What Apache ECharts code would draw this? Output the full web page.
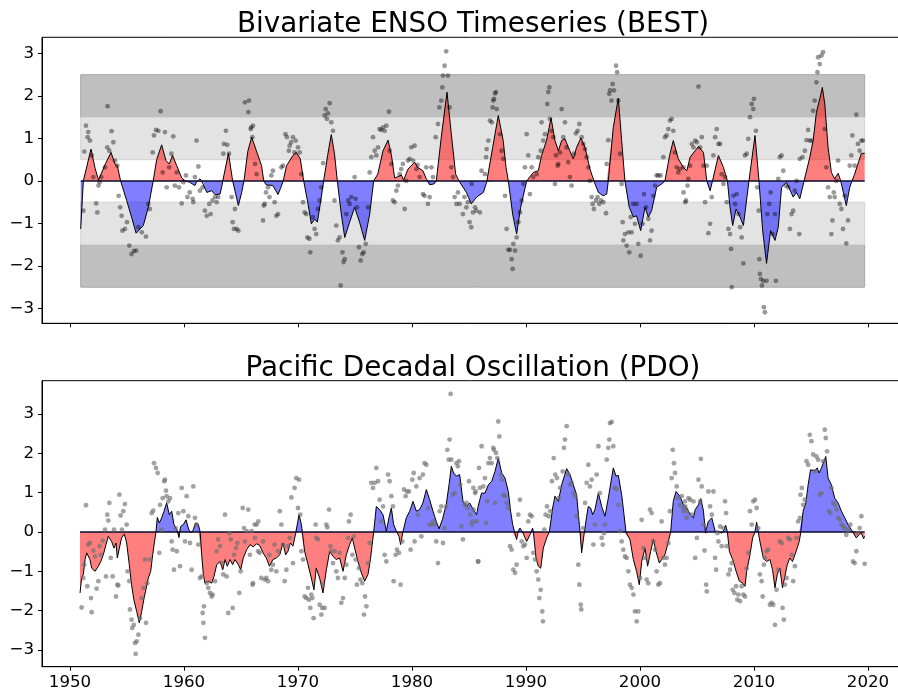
<!DOCTYPE html>
<html><head><meta charset="utf-8">
<script src="https://cdn.jsdelivr.net/npm/echarts@6/dist/echarts.min.js"></script>
<style>html,body{margin:0;padding:0;background:#fff}#c{width:898px;height:691px}</style>
</head><body><div id="c"></div>
<script>
const xTicks = [1950, 1960, 1970, 1980, 1990, 2000, 2010, 2020];
const yTicks = [-3, -2, -1, 0, 1, 2, 3];
const titles = ['Bivariate ENSO Timeseries (BEST)', 'Pacific Decadal Oscillation (PDO)'];
const bandsDark = [[1.5, 2.5], [-2.5, -1.5]];
const bandsLight = [[0.5, 1.5], [-1.5, -0.5]];

const bestYears = [1950.94,1951.17,1951.84,1952.2,1952.5,1953.1,1953.6,1953.95,1954.15,1954.44,1954.97,1955.4,1955.8,1956.43,1956.87,1957.3,1957.6,1958.04,1958.42,1958.7,1959.0,1959.36,1959.8,1960.1,1960.5,1960.96,1961.1,1961.25,1961.4,1961.55,1961.7,1962.0,1962.43,1962.72,1963.16,1963.3,1963.4,1963.9,1964.27,1964.77,1965.06,1965.26,1965.6,1965.94,1966.35,1966.8,1967.0,1967.2,1967.8,1968.25,1968.5,1968.7,1969.0,1969.56,1969.85,1970.2,1970.5,1970.88,1971.17,1971.46,1971.7,1972.0,1972.25,1972.6,1972.92,1973.2,1973.45,1973.8,1974.1,1974.53,1974.97,1975.4,1975.85,1976.29,1976.64,1977.0,1977.46,1977.9,1978.2,1978.48,1978.77,1979.06,1979.27,1979.65,1980.23,1980.5,1980.96,1981.25,1981.4,1981.55,1981.93,1982.13,1982.57,1983.07,1983.45,1983.83,1984.12,1984.77,1985.2,1985.67,1986.26,1986.55,1986.6,1987.08,1987.57,1988.0,1988.25,1988.45,1988.83,1989.18,1989.53,1990.06,1990.64,1991.08,1991.37,1991.8,1992.2,1992.54,1992.84,1993.13,1993.42,1993.71,1994.15,1994.44,1994.82,1995.18,1995.61,1995.96,1996.35,1996.78,1997.08,1997.22,1997.66,1998.1,1998.39,1998.68,1999.06,1999.42,1999.7,2000.06,2000.44,2000.73,2001.02,2001.46,2001.9,2002.19,2002.6,2002.92,2003.36,2003.8,2004.11,2004.4,2004.84,2005.13,2005.57,2005.86,2006.15,2006.36,2006.88,2007.32,2007.67,2007.9,2008.13,2008.43,2008.78,2009.07,2009.56,2010.09,2010.44,2010.76,2011.1,2011.46,2011.84,2012.13,2012.42,2012.86,2013.44,2013.73,2014.02,2014.37,2014.46,2014.9,2015.19,2015.48,2015.77,2016.0,2016.21,2016.5,2016.79,2017.08,2017.38,2017.61,2018.1,2018.4,2018.6,2018.83,2019.42,2019.71];
const bestValues = [-1.13,0,0.75,0.3,0.02,0.4,0.67,0.40,0.36,0,-0.46,-0.85,-1.23,-1.05,-0.62,0,0.5,0.85,0.48,0.40,0.60,0.36,0.07,0,-0.03,-0.11,-0.03,0,0.05,0,-0.03,-0.27,-0.23,-0.32,-0.31,-0.15,0,0.65,0,-0.58,-0.27,0,0.7,1.03,0.71,0.36,0,-0.09,-0.11,-0.32,-0.15,0,0.36,0.60,0.67,0.52,0,-0.54,-1.01,-0.90,-0.97,-0.46,0,0.6,1.09,0.64,0,-0.78,-1.33,-0.97,-0.62,-0.97,-1.40,-0.78,0,0.16,0.71,0.96,0.60,0.07,0.10,0.14,0.02,0.28,0.44,0.32,0.24,0.05,0,-0.09,-0.07,0,1.03,2.09,1.10,0.16,0,-0.27,-0.54,-0.38,-0.27,-0.03,0,0.79,1.54,0.95,0.32,0,-0.78,-1.25,-0.62,0,0.20,0.24,0.60,0.95,1.48,0.95,0.71,0.95,0.99,0.79,0.52,0.79,1.01,0.79,0.28,0,-0.27,-0.35,-0.31,0,1.26,1.95,0.95,0,-0.62,-0.85,-0.82,-1.17,-0.62,-0.85,-0.70,-0.15,-0.07,0,0.6,0.95,0.52,0.32,0.24,0.56,0.71,0.81,0.67,0,-0.23,0,0.60,0.32,0,-0.62,-1.05,-0.66,-0.85,-1.05,0,1.07,0,-1.17,-1.94,-1.17,-1.40,-1.09,-0.15,-0.03,-0.38,-0.27,-0.42,-0.03,0,0.56,0.95,1.62,1.93,2.20,1.81,0.79,0.20,0.05,0.18,0,-0.58,-0.15,0,0.16,0.65,0.65];

const bestObs = [[1951.17,-0.7],[1951.26,0.69],[1951.4,1.3],[1951.55,1.03],[1951.6,1.15],[1951.75,0.95],[1951.9,0.6],[1952.05,0.09],[1952.3,-0.53],[1952.4,-0.74],[1952.5,-0.11],[1952.6,-0.03],[1952.75,0.09],[1953.07,0.32],[1953.27,0.79],[1953.3,1.76],[1953.45,0.71],[1953.65,1.17],[1953.8,0.91],[1953.95,0.48],[1954.15,0.36],[1954.27,-0.35],[1954.4,-0.62],[1954.53,-0.82],[1954.6,-1.17],[1954.82,-1.13],[1955.0,-0.97],[1955.2,-1.52],[1955.4,-1.72],[1955.6,-1.65],[1955.8,-1.64],[1956.0,-1.09],[1956.3,-1.21],[1956.66,-1.31],[1956.87,-0.54],[1957.0,-0.66],[1957.25,0.67],[1957.37,1.07],[1957.54,1.2],[1957.75,1.18],[1957.95,1.64],[1958.13,0.2],[1958.33,1.15],[1958.48,-0.15],[1958.7,0.32],[1958.9,0.64],[1959.06,1.05],[1959.2,-0.11],[1959.36,0.2],[1959.56,-0.15],[1959.8,-0.53],[1959.94,-0.03],[1960.17,0.13],[1960.3,-0.38],[1960.5,-0.27],[1960.76,-0.42],[1960.82,-0.5],[1960.96,0.09],[1961.1,0.95],[1961.26,0.34],[1961.4,-0.23],[1961.64,-0.15],[1961.84,-0.7],[1962.0,-0.82],[1962.22,-0.54],[1962.34,-0.78],[1962.5,-0.46],[1962.72,-0.38],[1962.87,-0.5],[1963.0,-0.38],[1963.45,0.64],[1963.5,0.87],[1963.68,1.18],[1963.8,0.85],[1963.95,0.64],[1964.18,-0.38],[1964.27,-0.97],[1964.38,-1.13],[1964.47,-0.66],[1964.62,-1.13],[1964.77,-1.17],[1965.35,1.85],[1965.64,1.62],[1965.7,1.89],[1965.85,1.22],[1966.0,1.03],[1966.23,0.4],[1966.37,0.16],[1965.9,1.26],[1966.05,1.3],[1966.93,-0.93],[1967.0,-0.58],[1967.08,-0.54],[1967.2,-0.27],[1967.37,-0.15],[1967.5,-0.38],[1967.66,0.13],[1967.8,0.24],[1967.95,-0.5],[1968.1,-0.82],[1968.25,-0.78],[1968.54,0.32],[1968.68,0.36],[1968.9,1.1],[1969.03,1.03],[1969.2,0.71],[1969.27,0.83],[1969.4,0.91],[1969.56,1.03],[1969.7,0.67],[1969.8,0.95],[1970.0,0.79],[1970.15,0.67],[1970.3,0.16],[1970.44,-0.5],[1970.58,-0.74],[1970.73,-0.78],[1970.82,-1.33],[1971.0,-1.36],[1971.08,-1.68],[1971.3,-0.85],[1971.46,-1.13],[1971.6,-1.25],[1971.75,-0.66],[1971.9,-0.46],[1972.05,-0.15],[1972.2,0.42],[1972.34,1.54],[1972.43,1.69],[1972.54,1.46],[1972.63,1.59],[1972.78,1.83],[1972.92,1.38],[1973.07,1.18],[1973.2,-0.46],[1973.36,-1.05],[1973.5,-1.4],[1973.65,-1.33],[1973.74,-2.46],[1973.9,-1.68],[1974.0,-1.91],[1974.1,-1.84],[1974.24,-0.78],[1974.4,-0.46],[1974.53,-0.54],[1974.68,-0.38],[1974.97,0.09],[1975.06,-0.42],[1975.18,-0.62],[1975.35,-1.56],[1975.5,-1.87],[1975.64,-1.72],[1975.76,-1.68],[1975.94,-1.48],[1976.14,-0.62],[1976.29,0.2],[1976.43,0.56],[1976.58,1.03],[1976.73,0.71],[1976.87,0.6],[1977.02,0.79],[1977.16,1.22],[1977.3,1.2],[1977.46,1.26],[1977.6,1.18],[1977.75,1.3],[1977.98,1.63],[1978.04,0.71],[1978.2,0.4],[1978.33,-0.46],[1978.48,-0.5],[1978.63,-0.23],[1978.77,-0.11],[1978.92,0.16],[1979.06,0.28],[1979.2,0.4],[1979.36,-0.66],[1979.5,0],[1979.65,0.48],[1979.8,0.52],[1979.94,0.79],[1980.1,0.48],[1980.23,0.83],[1980.38,0.28],[1980.5,0.38],[1980.67,0.09],[1980.96,-0.31],[1981.1,-0.35],[1981.25,0.32],[1981.4,-0.54],[1981.55,-0.38],[1981.7,0.32],[1981.84,0.09],[1982.08,1.03],[1982.28,1.34],[1982.4,1.73],[1982.57,1.89],[1982.66,2.2],[1982.72,2.48],[1982.86,2.71],[1983.0,3.05],[1983.15,2.48],[1983.3,1.73],[1983.45,0.32],[1983.6,0.09],[1983.74,-0.38],[1983.9,-0.54],[1984.03,-0.27],[1984.18,-0.54],[1984.47,-0.78],[1984.6,-0.38],[1984.77,-0.62],[1984.9,-0.5],[1985.05,-0.97],[1985.2,-1.09],[1985.35,-0.74],[1985.64,-0.7],[1985.23,-0.07],[1985.53,-0.62],[1985.96,-0.74],[1986.1,0.24],[1986.4,0.16],[1986.5,0.56],[1986.55,0.75],[1986.7,0.95],[1986.84,1.42],[1987.0,1.38],[1987.08,1.73],[1987.13,1.89],[1987.2,1.93],[1987.28,2.06],[1987.37,2.09],[1987.43,1.69],[1987.72,1.1],[1987.87,0.71],[1988.0,0.52],[1988.16,-0.35],[1988.3,-1.13],[1988.45,-1.62],[1988.6,-1.62],[1988.74,-1.84],[1988.83,-2.07],[1988.89,-1.48],[1989.04,-1.64],[1989.18,-1.33],[1989.33,-0.97],[1989.47,-0.74],[1989.62,-0.46],[1989.77,-0.07],[1989.91,0.32],[1990.06,1.1],[1990.2,0.6],[1990.35,-0.31],[1990.5,0.32],[1990.64,0.09],[1990.94,0.16],[1991.08,0.56],[1991.29,0.71],[1991.37,1.38],[1991.52,0.95],[1991.67,1.1],[1991.87,1.81],[1991.96,2.09],[1992.05,2.2],[1992.1,1.46],[1992.25,1.18],[1992.4,1.03],[1992.54,-0.07],[1992.63,0.6],[1992.78,0.36],[1992.84,0.4],[1992.98,0.67],[1993.13,1.69],[1993.27,1.03],[1993.42,1.38],[1993.57,0.79],[1993.71,0.44],[1993.86,0.09],[1994.0,-0.11],[1994.2,0.64],[1994.38,1.12],[1994.53,1.18],[1994.68,1.34],[1994.88,1.03],[1995.03,0.87],[1995.18,0.75],[1995.32,0.56],[1995.47,0.32],[1995.61,0],[1995.76,-0.38],[1995.85,-0.54],[1995.96,-0.66],[1996.14,-0.46],[1996.28,-0.38],[1996.43,-0.54],[1996.58,-0.46],[1996.78,-0.5],[1997.02,-0.76],[1997.08,0.4],[1997.22,0.96],[1997.3,2.05],[1997.37,2.13],[1997.5,1.89],[1997.6,2.28],[1997.72,2.13],[1997.9,2.71],[1998.0,2.56],[1998.1,1.89],[1998.25,0.64],[1998.39,-0.07],[1998.48,-0.97],[1998.54,-1.4],[1998.68,-1.25],[1998.83,-1.52],[1998.98,-1.21],[1999.06,-1.68],[1999.18,-0.85],[1999.27,-1.21],[1999.42,-0.54],[1999.56,-1.01],[1999.7,-0.54],[1999.85,-1.48],[2000.06,-1.76],[2000.23,-1.01],[2000.35,-0.31],[2000.53,-0.62],[2000.73,-0.89],[2000.88,-1.4],[2001.02,-1.17],[2001.17,-0.35],[2001.32,-0.11],[2001.46,0.13],[2001.6,0.13],[2001.81,0.13],[2002.05,0.56],[2002.19,1.03],[2002.34,1.07],[2002.49,1.22],[2002.63,1.42],[2002.78,1.46],[2002.92,1.18],[2003.07,0.67],[2003.22,0.32],[2003.36,0.2],[2003.5,0.28],[2003.8,0.32],[2004.04,-0.46],[2004.24,0.05],[2003.82,-0.27],[2003.97,-0.5],[2004.17,-0.11],[2004.4,0.36],[2004.55,0.87],[2004.69,0.79],[2004.84,0.95],[2004.99,0.91],[2005.13,2.22],[2005.28,0.79],[2005.42,1.03],[2005.57,0.36],[2005.71,-0.5],[2005.86,0.36],[2006.0,-1.23],[2006.15,-1.01],[2006.3,-0.38],[2006.44,0.6],[2006.59,1.03],[2006.73,1.22],[2006.88,0.87],[2007.03,0.87],[2007.17,0.16],[2007.32,-0.07],[2007.46,0.09],[2007.61,-0.5],[2007.76,-1.13],[2007.9,-1.25],[2007.99,-1.6],[2008.05,-2.5],[2008.2,-0.35],[2008.34,-0.54],[2008.48,-0.31],[2008.63,-0.78],[2008.78,-1.09],[2008.92,-1.33],[2009.07,-1.94],[2009.21,0.6],[2009.36,0.64],[2009.5,0.99],[2009.65,1.5],[2009.8,1.81],[2009.94,1.69],[2010.0,1.93],[2010.17,1.18],[2010.29,-0.15],[2010.41,-0.7],[2010.47,-1.84],[2010.52,-2.19],[2010.61,-2.31],[2010.7,-2.46],[2010.82,-2.35],[2010.87,-2.97],[2010.96,-3.09],[2011.1,-2.35],[2011.17,-0.78],[2011.34,-0.54],[2011.46,-0.27],[2011.63,-1.25],[2011.84,-0.78],[2011.92,-2.35],[2012.13,0.05],[2012.27,0.56],[2012.42,0.6],[2012.57,0.24],[2012.8,-0.11],[2013.0,-0.15],[2013.15,-1.13],[2013.3,-0.78],[2013.44,-0.7],[2013.59,-0.23],[2013.73,0],[2013.97,-1.25],[2014.02,0.52],[2014.26,0.56],[2014.46,0.71],[2014.61,0.96],[2014.75,1.2],[2014.9,0.95],[2015.04,0.95],[2015.19,1.65],[2015.33,1.89],[2015.48,2.32],[2015.57,2.56],[2015.63,2.91],[2015.77,2.75],[2015.92,2.95],[2016.06,3.03],[2016.21,1.22],[2016.35,0.32],[2016.5,-0.15],[2016.65,-0.38],[2016.79,-1.25],[2016.88,-0.93],[2017.0,-0.27],[2017.08,-0.38],[2017.23,0],[2017.38,0.48],[2017.52,-0.54],[2017.67,-0.66],[2017.81,-1.13],[2017.96,-0.35],[2018.1,-1.47],[2018.25,-0.93],[2018.4,0.36],[2018.54,0.6],[2018.63,1.07],[2018.83,0.36],[2018.98,1.56],[2019.12,0.87],[2019.27,0.71],[2019.42,0.95],[2019.56,0.95]];

const pdoYears = [1950.88,1951.02,1951.17,1951.32,1951.46,1951.6,1951.75,1951.9,1952.05,1952.2,1952.34,1952.49,1952.7,1952.92,1953.16,1953.36,1953.5,1953.65,1953.86,1954.04,1954.15,1954.33,1954.53,1954.77,1954.97,1955.2,1955.4,1955.6,1955.85,1956.08,1956.29,1956.5,1956.67,1956.87,1957.08,1957.25,1957.54,1957.66,1957.84,1958.04,1958.25,1958.48,1958.71,1958.92,1959.12,1959.36,1959.45,1959.56,1959.63,1959.7,1959.94,1960.18,1960.38,1960.52,1960.58,1960.7,1960.82,1961.02,1961.26,1961.42,1961.55,1961.7,1961.84,1962.13,1962.43,1962.63,1962.87,1963.16,1963.4,1963.6,1963.8,1964.04,1964.27,1964.47,1964.77,1964.97,1965.2,1965.5,1965.79,1966.08,1966.35,1966.64,1966.93,1967.22,1967.5,1967.8,1968.1,1968.4,1968.68,1968.92,1969.12,1969.33,1969.56,1969.8,1969.85,1970.09,1970.3,1970.38,1970.58,1970.88,1971.17,1971.4,1971.6,1971.9,1972.19,1972.49,1972.78,1973.07,1973.36,1973.65,1973.95,1974.24,1974.53,1974.77,1974.97,1975.26,1975.56,1975.85,1976.14,1976.35,1976.64,1976.87,1977.16,1977.46,1977.75,1977.98,1978.19,1978.39,1978.63,1978.7,1978.86,1979.0,1979.2,1979.5,1979.8,1980.09,1980.38,1980.67,1980.96,1981.26,1981.55,1981.84,1982.13,1982.37,1982.66,1983.0,1983.25,1983.45,1983.65,1983.9,1984.18,1984.47,1984.77,1985.06,1985.38,1985.67,1985.8,1986.1,1986.4,1986.7,1986.99,1987.28,1987.57,1987.87,1988.16,1988.45,1988.65,1988.83,1989.0,1989.18,1989.3,1989.47,1989.7,1989.77,1990.06,1990.35,1990.47,1990.58,1990.65,1990.88,1991.08,1991.29,1991.52,1991.81,1992.05,1992.34,1992.54,1992.84,1993.13,1993.57,1993.86,1994.15,1994.44,1994.68,1994.75,1994.88,1995.09,1995.13,1995.32,1995.47,1995.67,1995.85,1996.05,1996.35,1996.64,1996.93,1997.22,1997.66,1997.9,1998.1,1998.39,1998.6,1998.77,1999.12,1999.42,1999.7,1999.94,2000.15,2000.44,2000.67,2000.94,2001.17,2001.4,2001.7,2001.9,2002.19,2002.49,2002.69,2002.92,2003.16,2003.5,2003.8,2004.11,2004.4,2004.69,2004.84,2005.13,2005.34,2005.57,2005.74,2005.77,2005.8,2006.0,2006.3,2006.44,2006.59,2006.88,2007.05,2007.17,2007.3,2007.38,2007.52,2007.67,2007.84,2008.13,2008.43,2008.72,2009.0,2009.21,2009.36,2009.65,2009.88,2010.09,2010.23,2010.38,2010.52,2010.82,2011.1,2011.4,2011.63,2011.84,2012.04,2012.27,2012.5,2012.71,2012.92,2013.15,2013.38,2013.59,2013.79,2013.97,2014.11,2014.31,2014.55,2014.75,2014.96,2015.13,2015.34,2015.54,2015.71,2015.92,2016.3,2016.5,2016.79,2017.08,2017.38,2017.67,2017.96,2018.25,2018.54,2018.69,2018.98,2019.21,2019.42,2019.62,2019.71];
const pdoValues = [-1.55,-1.17,-1.08,-0.70,-0.53,-0.49,-0.70,-0.92,-0.87,-1.00,-0.96,-0.87,-0.75,-0.58,-0.32,-0.11,-0.07,-0.24,-0.41,-0.28,-0.66,-0.41,-0.15,-0.05,-0.28,-0.83,-1.34,-1.72,-2.02,-2.31,-2.02,-1.68,-1.64,-1.17,-1.00,-0.58,0,0.37,0.23,0.36,0.53,0.74,0.44,0.53,0.19,0.06,0,-0.14,0,0.14,0.19,0.31,0.10,0,-0.03,0,0.06,0.23,0.19,0,-0.58,-1.08,-1.30,-1.25,-1.30,-1.13,-0.83,-0.75,-0.96,-0.70,-0.87,-0.70,-0.83,-0.70,-0.83,-0.96,-0.66,-0.45,-0.32,-0.38,-0.30,-0.34,-0.53,-0.66,-0.87,-0.70,-0.66,-0.58,-0.28,-0.58,-0.49,-0.28,-0.36,-0.03,0,0.44,0.19,0,-0.49,-0.83,-1.17,-1.47,-0.92,-1.17,-1.55,-0.96,-0.49,-0.62,-0.70,-0.66,-1.00,-0.58,-0.32,-0.15,-0.41,-0.75,-1.04,-1.25,-1.08,-0.70,0,0.65,0.57,0.44,0.02,0.36,0.61,0.19,0.02,0,-0.11,-0.32,0,0.36,0.53,0.78,0.53,0.57,0.74,1.08,0.82,0.53,0.27,0.08,0.31,0.69,1.20,1.67,1.50,1.42,1.46,0.78,0.65,0.74,0.57,0.44,0.65,0.99,0.99,1.20,1.29,1.54,1.88,1.50,1.37,1.03,0.53,0.19,0,-0.19,0,0.10,0,-0.03,-0.24,-0.07,0,0.10,0,-0.66,-0.87,-0.92,-0.41,-0.15,0,0.61,0.91,0.78,1.20,1.61,1.46,1.20,0.95,0.19,0,-0.53,-0.07,0,0.40,0.65,0.61,0.44,0.57,0.99,0.65,0.40,0.86,1.63,1.42,1.44,0.95,0.44,0,-0.19,-0.70,-1.00,-1.34,-0.75,-0.41,-0.87,-0.49,-0.19,-0.49,-0.79,-0.70,-0.58,-0.24,0,0.78,1.03,0.91,0.70,0.61,0.44,0.36,0.57,0.69,0.85,0.53,0,-0.05,0,0.27,0.36,0.31,0.02,0.02,0,-0.03,0,0.06,0.17,0,-0.49,-0.70,-1.00,-1.25,-1.30,-1.38,-1.00,-0.58,-0.15,0,0.25,0,-0.24,-0.66,-0.75,-0.70,-0.96,-1.42,-1.08,-0.92,-1.42,-1.13,-0.83,-0.66,-0.75,-0.58,-0.41,-0.24,0,0.53,0.74,1.20,1.58,1.63,1.56,1.63,1.50,1.63,1.92,1.37,1.20,0.86,0.74,0.53,0.36,0.19,0.06,0,-0.15,-0.07,-0.03,-0.17,-0.11];

const pdoObs = [[1951.02,-1.92],[1951.17,-1.17],[1951.26,-0.83],[1951.4,0.68],[1951.52,-1.38],[1951.6,-0.32],[1951.75,-0.28],[1951.84,-1.68],[1951.9,-2.04],[1952.05,-0.47],[1952.2,-0.62],[1952.34,-1.44],[1952.49,-1.25],[1952.6,-0.36],[1952.7,-0.58],[1952.87,-0.22],[1953.07,0.06],[1953.16,-1.13],[1953.27,0.44],[1953.36,0.29],[1953.45,0.74],[1953.57,-0.66],[1953.74,-1.13],[1953.86,0.06],[1954.04,-1.64],[1954.15,-1.34],[1954.24,-1.36],[1954.33,0.95],[1954.44,0.42],[1954.56,0.06],[1954.68,0.53],[1954.82,0.71],[1954.97,0.19],[1955.06,-1.0],[1955.2,-1.25],[1955.26,-1.97],[1955.4,-2.23],[1955.46,-2.44],[1955.6,-2.36],[1955.7,-2.82],[1955.85,-2.78],[1956.0,-2.61],[1955.76,-3.1],[1956.14,-2.19],[1956.29,-1.68],[1956.43,-1.42],[1956.58,-0.7],[1956.67,-2.31],[1956.78,-1.3],[1957.0,-0.7],[1957.16,0.48],[1957.3,0.54],[1957.37,1.75],[1957.54,1.63],[1957.69,1.5],[1957.84,-0.53],[1957.9,0.69],[1958.04,0.06],[1958.13,0.86],[1958.27,1.29],[1958.33,1.33],[1958.42,1.05],[1958.48,0.91],[1958.63,0.78],[1958.77,0.86],[1958.92,-0.24],[1959.0,-0.45],[1959.12,-0.96],[1959.27,0.1],[1959.36,-0.49],[1959.5,0.48],[1959.65,-0.87],[1959.8,1.12],[1959.94,0.53],[1960.09,-0.24],[1960.23,0.91],[1960.38,0.4],[1960.53,-0.28],[1960.67,-0.96],[1960.82,1.16],[1960.96,0.36],[1961.11,0.19],[1961.26,-0.32],[1961.4,-1.17],[1961.55,-1.13],[1961.64,-2.06],[1961.7,-2.31],[1961.75,-1.89],[1961.84,-2.69],[1962.0,-1.3],[1962.13,-1.42],[1962.28,-1.55],[1962.43,-1.64],[1962.51,-1.59],[1962.72,-1.25],[1962.87,-0.49],[1963.0,-0.19],[1963.16,-0.36],[1963.3,-0.79],[1963.45,-1.08],[1963.6,0.44],[1963.74,-1.13],[1963.89,-2.06],[1963.98,-0.03],[1964.1,-0.19],[1964.27,-1.93],[1964.39,-0.58],[1964.56,-0.41],[1964.68,-0.28],[1964.85,-1.55],[1964.97,-1.0],[1965.15,0.61],[1965.26,0.1],[1965.35,-0.24],[1965.5,0.02],[1965.64,0.57],[1965.79,-0.58],[1965.94,0.02],[1966.02,-1.34],[1966.23,-0.15],[1966.37,0.19],[1966.52,0.27],[1966.05,-1.3],[1966.2,0.19],[1966.5,-0.49],[1966.64,-0.53],[1966.78,-1.17],[1966.93,-0.24],[1967.08,-1.21],[1967.22,-1.17],[1967.37,-1.25],[1967.5,-0.58],[1967.66,-0.96],[1967.8,-0.83],[1967.95,-0.32],[1968.1,-1.0],[1968.25,-0.49],[1968.4,0.53],[1968.54,0.19],[1968.68,-0.32],[1968.83,-1.25],[1968.98,-0.96],[1969.12,-0.36],[1969.27,-0.15],[1969.42,0.88],[1969.56,-0.79],[1969.7,1.12],[1969.85,1.37],[1970.0,0.61],[1970.09,1.33],[1970.2,0.44],[1970.3,-0.49],[1970.44,-0.7],[1970.58,-1.64],[1970.73,-1.68],[1970.88,-1.42],[1970.96,-1.72],[1971.08,-1.93],[1971.17,-1.59],[1971.26,-1.68],[1971.37,-2.19],[1971.55,0.19],[1971.6,-0.15],[1971.75,-0.19],[1971.9,-1.85],[1972.05,-2.1],[1972.13,-1.93],[1972.19,-1.34],[1972.34,-1.93],[1972.49,0.19],[1972.57,0.12],[1972.72,0.57],[1972.84,-0.36],[1972.92,-0.49],[1973.07,-0.79],[1973.22,-0.49],[1973.36,-1.0],[1973.5,-1.17],[1973.65,-0.53],[1973.8,-1.8],[1973.95,-1.68],[1974.1,-1.17],[1974.24,-0.83],[1974.39,-0.15],[1974.47,0.27],[1974.62,0.44],[1974.77,-0.58],[1974.88,-0.11],[1975.06,-0.7],[1975.17,-1.34],[1975.35,-0.92],[1975.47,-1.21],[1975.64,-1.3],[1975.79,-2.1],[1975.88,-1.64],[1976.0,-1.89],[1976.14,-0.79],[1976.29,-0.28],[1976.43,1.25],[1976.58,1.12],[1976.73,1.25],[1976.87,1.63],[1977.02,1.29],[1977.16,0.82],[1977.3,0.27],[1977.46,0.65],[1977.6,-0.58],[1977.75,-0.75],[1977.9,1.46],[1978.04,1.29],[1978.19,0.91],[1978.33,0.65],[1978.39,-1.25],[1978.57,-0.58],[1978.68,-0.45],[1978.86,-0.53],[1979.0,-1.34],[1979.15,-0.24],[1979.3,1.08],[1979.44,0.91],[1979.56,1.03],[1979.74,1.03],[1979.88,-0.45],[1980.03,1.33],[1980.15,1.5],[1980.23,-0.24],[1980.38,1.16],[1980.53,0.44],[1980.67,1.37],[1980.82,-0.11],[1980.96,1.46],[1981.1,1.75],[1981.26,1.71],[1981.4,0.61],[1981.55,0.19],[1981.7,0.19],[1981.84,0.27],[1981.99,0.19],[1982.13,-0.24],[1982.28,-0.79],[1982.43,0.53],[1982.57,0.65],[1982.72,-0.28],[1982.86,0.1],[1983.0,0.65],[1983.1,2.09],[1983.22,1.84],[1983.3,2.35],[1983.39,3.51],[1983.45,1.84],[1983.6,0.95],[1983.74,0.99],[1983.9,1.75],[1984.03,1.67],[1984.12,1.8],[1984.24,1.2],[1984.33,0.14],[1984.47,-0.19],[1984.62,0.69],[1984.77,0.74],[1984.91,0.61],[1985.0,1.29],[1985.12,0.44],[1985.3,0.27],[1985.4,0.57],[1985.58,1.03],[1985.79,-0.75],[1985.88,1.63],[1985.23,0.19],[1985.38,1.12],[1985.53,0.99],[1985.67,0.27],[1985.82,-0.75],[1985.96,1.12],[1986.11,2.18],[1986.26,1.16],[1986.4,1.37],[1986.5,0.23],[1986.61,0.78],[1986.7,1.75],[1986.84,1.88],[1986.99,1.75],[1987.13,2.14],[1987.19,2.09],[1987.28,0.74],[1987.37,2.01],[1987.49,1.88],[1987.57,2.81],[1987.66,2.43],[1987.78,1.46],[1987.87,1.33],[1988.01,0.95],[1988.16,0.91],[1988.3,0.74],[1988.45,0.61],[1988.6,-0.36],[1988.74,-0.45],[1988.89,-0.96],[1989.04,-1.04],[1989.18,-0.83],[1989.33,0.44],[1989.47,0.82],[1989.62,-0.24],[1989.77,-0.36],[1989.91,-0.32],[1990.06,-0.66],[1990.2,0.27],[1990.35,0.44],[1990.5,0.4],[1990.64,-0.53],[1990.79,-0.7],[1990.94,-1.0],[1991.08,-1.21],[1991.17,-1.68],[1991.29,-1.47],[1991.43,-2.02],[1991.49,-2.27],[1991.61,0.06],[1991.72,0.44],[1991.84,0.65],[1991.99,0.4],[1992.13,0.53],[1992.28,1.29],[1992.43,1.88],[1992.57,1.46],[1992.72,1.37],[1992.86,0.86],[1993.0,1.12],[1993.22,1.54],[1993.33,2.14],[1993.42,2.35],[1993.57,2.69],[1993.71,1.46],[1993.86,1.2],[1994.0,1.25],[1994.15,0.99],[1994.3,0.91],[1994.44,0.4],[1994.59,-0.83],[1994.68,-1.34],[1994.8,-1.85],[1994.85,-1.97],[1995.03,0.1],[1995.18,0.74],[1995.32,1.25],[1995.47,1.71],[1995.61,1.16],[1995.76,1.33],[1995.91,-0.32],[1996.05,0.19],[1996.2,1.46],[1996.35,2.18],[1996.49,0.99],[1996.64,-0.15],[1996.73,-0.32],[1996.84,-0.03],[1996.93,0.19],[1997.08,1.84],[1997.22,2.14],[1997.31,2.35],[1997.37,2.77],[1997.52,2.8],[1997.66,2.18],[1997.81,1.12],[1997.95,1.08],[1998.1,0.69],[1998.25,0.02],[1998.39,-0.24],[1998.54,-0.45],[1998.68,-0.62],[1998.83,-0.66],[1998.98,-1.0],[1999.12,-1.34],[1999.27,-1.42],[1999.42,-1.59],[1999.56,-2.02],[1999.71,-2.27],[1999.85,-2.02],[2000.0,-1.17],[2000.15,0.31],[2000.3,-0.41],[2000.44,-0.66],[2000.58,-1.21],[2000.73,-1.3],[2000.88,0.57],[2001.02,0.48],[2001.17,-0.24],[2001.32,-0.45],[2001.46,-1.0],[2001.61,-1.34],[2001.75,-1.3],[2001.9,0.27],[2002.05,-0.66],[2002.19,-0.83],[2002.34,-0.66],[2002.49,-0.28],[2002.63,0.53],[2002.78,1.37],[2002.87,2.09],[2002.98,1.75],[2003.07,1.5],[2003.22,1.16],[2003.36,0.86],[2003.5,0.69],[2003.8,0.61],[2003.95,0.78],[2004.09,0.36],[2003.67,0.91],[2003.82,0.53],[2003.97,0.65],[2004.11,0.53],[2004.26,0.86],[2004.4,0.82],[2004.55,0.44],[2004.69,0.78],[2004.84,-0.66],[2004.99,-0.15],[2005.13,1.33],[2005.28,0.78],[2005.34,1.86],[2005.42,1.16],[2005.57,0.19],[2005.66,-0.47],[2005.8,-1.34],[2005.86,-1.51],[2006.0,1.03],[2006.15,0.65],[2006.3,0.44],[2006.44,1.03],[2006.59,-0.66],[2006.68,-0.96],[2006.79,-0.03],[2006.88,-0.24],[2007.03,0.14],[2007.17,-0.36],[2007.32,0.1],[2007.46,0.78],[2007.55,0.48],[2007.61,-0.36],[2007.76,-1.08],[2007.9,-0.96],[2008.05,-0.79],[2008.13,-1.47],[2008.28,-1.55],[2008.43,-1.38],[2008.54,-1.72],[2008.63,-1.59],[2008.78,-1.76],[2008.92,-1.38],[2009.07,-1.59],[2009.21,-1.64],[2009.36,-0.92],[2009.5,-0.53],[2009.65,0.53],[2009.8,0.19],[2009.94,0.78],[2010.09,0.82],[2010.23,0.61],[2010.38,0.1],[2010.52,-1.08],[2010.67,-1.25],[2010.76,-1.64],[2010.87,-0.83],[2010.96,-0.66],[2011.11,-0.49],[2011.25,-0.45],[2011.4,-1.85],[2011.54,-1.8],[2011.69,-1.85],[2011.84,-2.36],[2011.98,-1.47],[2012.13,-0.96],[2012.27,-0.24],[2012.42,-0.28],[2012.51,-1.93],[2012.62,-2.23],[2012.71,-1.34],[2012.86,-1.17],[2013.0,-0.15],[2013.15,-0.19],[2013.3,-0.58],[2013.44,-1.25],[2013.59,-0.87],[2013.73,-0.15],[2013.88,0.27],[2014.03,0.36],[2014.08,0.95],[2014.2,1.12],[2014.31,0.69],[2014.46,0.82],[2014.61,1.8],[2014.75,1.71],[2014.9,2.47],[2015.04,2.31],[2015.19,1.97],[2015.33,1.54],[2015.48,1.92],[2015.63,1.84],[2015.77,0.95],[2015.92,0.99],[2016.06,1.8],[2016.21,2.6],[2016.3,2.39],[2016.41,2.05],[2016.59,0.53],[2016.71,0.48],[2016.79,1.12],[2016.94,0.74],[2017.08,0.69],[2017.23,0.57],[2017.38,0.36],[2017.52,0.31],[2017.67,0.19],[2017.81,0.14],[2017.96,0.1],[2018.1,-0.07],[2018.25,0.06],[2018.45,0.19],[2018.69,-0.75],[2018.83,-0.79],[2018.98,-0.49],[2019.12,-0.03],[2019.27,0.1],[2019.42,0.4],[2019.71,-0.81]];

const FONT = 'DejaVu Sans';
const XMIN = 1947.544, XMAX = 2023.16;
const fmtNum = v => (v < 0 ? '\u2212' + Math.abs(v) : String(v));

function xAxisCfg(gi, showLabels) {
  return {
    type: 'value', gridIndex: gi, min: XMIN, max: XMAX,
    axisLine: { show: true, onZero: false, lineStyle: { color: '#000', width: 1 } },
    splitLine: { show: false },
    axisTick: { show: true, length: 4, lineStyle: { color: '#000', width: 1 }, customValues: xTicks },
    axisLabel: { show: showLabels, customValues: xTicks, fontFamily: FONT, fontSize: 16.67, color: '#000', margin: 7, formatter: v => String(v) }
  };
}
function yAxisCfg(gi, min, max) {
  return {
    type: 'value', gridIndex: gi, min: min, max: max,
    axisLine: { show: true, onZero: false, lineStyle: { color: '#000', width: 1 } },
    splitLine: { show: false },
    axisTick: { show: true, length: 4, lineStyle: { color: '#000', width: 1 }, customValues: yTicks },
    axisLabel: { show: true, customValues: yTicks, fontFamily: FONT, fontSize: 16.67, color: '#000', margin: 8, formatter: fmtNum }
  };
}

function panelSeries(gi, years, values, obs, posColor, negColor, dotColor, bands) {
  const full = years.map((y, i) => [y, values[i]]);
  const pos = years.map((y, i) => [y, Math.max(values[i], 0)]);
  const neg = years.map((y, i) => [y, Math.min(values[i], 0)]);
  const x0 = years[0], x1 = years[years.length - 1];
  const s = [];
  if (bands) {
    const areas = [];
    bandsDark.forEach(b => areas.push([{ xAxis: x0, yAxis: b[0], itemStyle: { color: '#bfbfbf', borderColor: '#a6a6a6', borderWidth: 1 } }, { xAxis: x1, yAxis: b[1] }]));
    bandsLight.forEach(b => areas.push([{ xAxis: x0, yAxis: b[0], itemStyle: { color: '#e3e3e3', borderColor: '#d4d4d4', borderWidth: 1 } }, { xAxis: x1, yAxis: b[1] }]));
    s.push({ type: 'line', xAxisIndex: gi, yAxisIndex: gi, data: [], z: 1, silent: true,
      markArea: { silent: true, data: areas } });
  }
  s.push({ type: 'line', xAxisIndex: gi, yAxisIndex: gi, data: pos, showSymbol: false, z: 2, silent: true,
    lineStyle: { width: 0, opacity: 0 }, areaStyle: { color: posColor, opacity: 1, origin: 'auto' } });
  s.push({ type: 'line', xAxisIndex: gi, yAxisIndex: gi, data: neg, showSymbol: false, z: 2, silent: true,
    lineStyle: { width: 0, opacity: 0 }, areaStyle: { color: negColor, opacity: 1, origin: 'auto' } });
  s.push({ type: 'line', xAxisIndex: gi, yAxisIndex: gi, data: full, showSymbol: false, z: 3, silent: true,
    lineStyle: { color: '#000', width: 1 } });
  s.push({ type: 'line', xAxisIndex: gi, yAxisIndex: gi, data: [[x0, 0], [x1, 0]], showSymbol: false, z: 4, silent: true,
    lineStyle: { color: '#0a0a2a', width: 1.6 } });
  s.push({ type: 'scatter', xAxisIndex: gi, yAxisIndex: gi, data: obs, symbolSize: 4.8, z: 5, silent: true,
    itemStyle: { color: dotColor } });
  return s;
}

const chart = echarts.init(document.getElementById('c'), null, { renderer: 'canvas' });
chart.setOption({
  animation: false,
  backgroundColor: '#fff',
  title: [
    { text: titles[0], left: 473, top: 11, textAlign: 'center', padding: 0, textStyle: { fontFamily: FONT, fontSize: 27.8, fontWeight: 'normal', color: '#000' } },
    { text: titles[1], left: 473, top: 354.5, textAlign: 'center', padding: 0, textStyle: { fontFamily: FONT, fontSize: 27.8, fontWeight: 'normal', color: '#000' } }
  ],
  grid: [
    { left: 42, top: 37.3, width: 862, height: 286, show: true, borderColor: '#000', borderWidth: 1, backgroundColor: 'transparent', outerBoundsMode: 'none', containLabel: false },
    { left: 42, top: 380.7, width: 862, height: 286, show: true, borderColor: '#000', borderWidth: 1, backgroundColor: 'transparent', outerBoundsMode: 'none', containLabel: false }
  ],
  xAxis: [xAxisCfg(0, false), xAxisCfg(1, true)],
  yAxis: [yAxisCfg(0, -3.35, 3.38), yAxisCfg(1, -3.425, 3.847)],
  series: [
    ...panelSeries(0, bestYears, bestValues, bestObs, 'rgba(255,0,0,0.5)', 'rgba(0,0,255,0.5)', 'rgba(0,0,0,0.5)', true),
    ...panelSeries(1, pdoYears, pdoValues, pdoObs, 'rgba(0,0,255,0.5)', 'rgba(255,0,0,0.5)', 'rgba(110,110,110,0.8)', false)
  ]
});
</script>
</body></html>
